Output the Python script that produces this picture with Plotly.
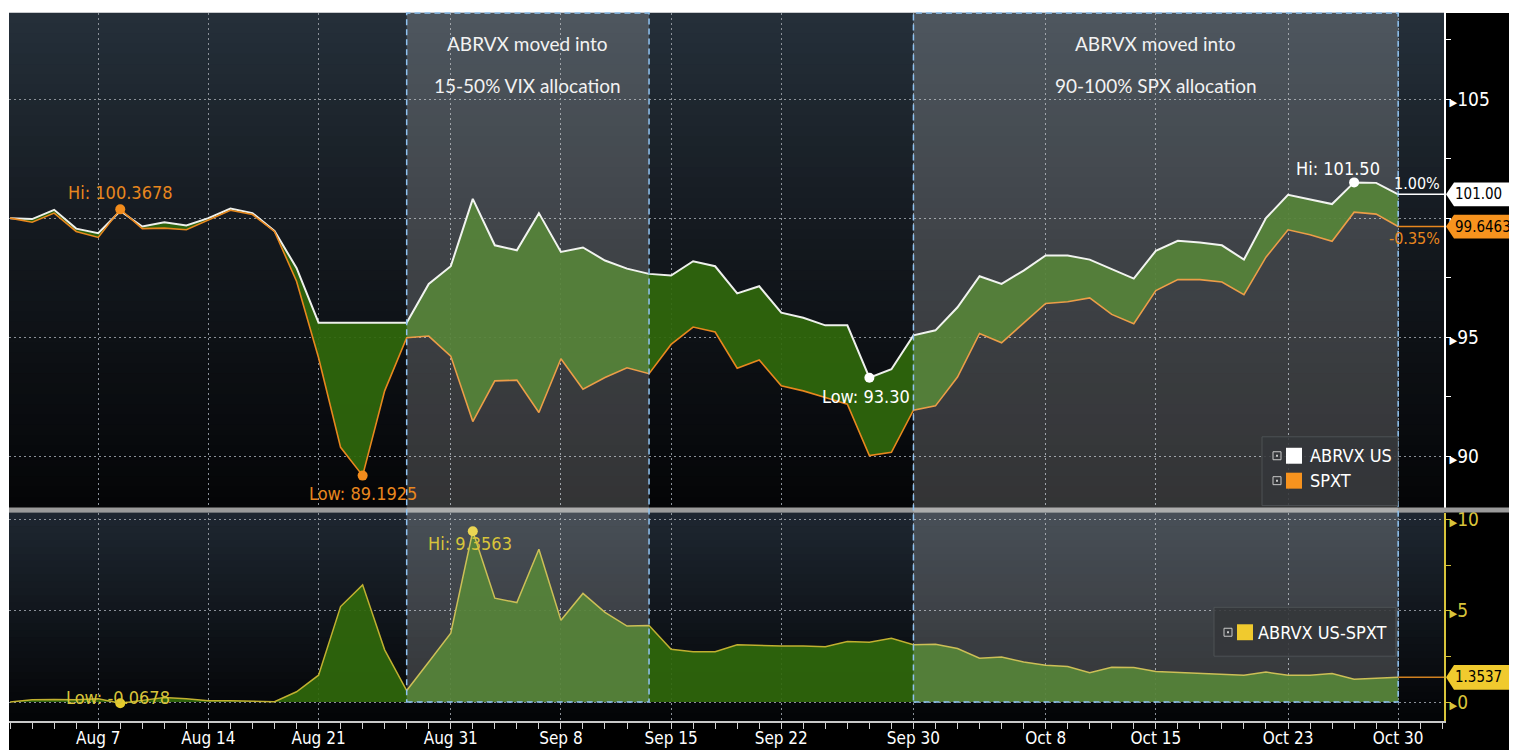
import plotly.graph_objects as go
import pandas as pd

# ---------------- data ----------------
DATES = [d.strftime("%Y-%m-%d") for d in pd.bdate_range("2015-08-03", "2015-10-30")
         if d.strftime("%Y-%m-%d") != "2015-09-07"]

ABRVX = [100.00, 99.96, 100.35, 99.56, 99.37, 100.30, 99.65, 99.83, 99.69, 100.00,
         100.40, 100.21, 99.46, 97.91, 95.61, 95.61, 95.61, 95.61, 95.61, 97.24,
         97.98, 100.81, 98.86, 98.65, 100.21, 98.58, 98.77, 98.22, 97.88, 97.66,
         97.59, 98.19, 97.98, 96.84, 97.14, 96.03, 95.82, 95.50, 95.50, 93.30,
         93.66, 95.08, 95.29, 96.26, 97.56, 97.24, 97.80, 98.43, 98.43, 98.26,
         97.87, 97.46, 98.63, 99.05, 98.98, 98.86, 98.26, 100.00, 100.98, 100.77,
         100.59, 101.50, 101.48, 101.00]

SPXT = [100.00, 99.83, 100.21, 99.44, 99.19, 100.3678, 99.56, 99.58, 99.51, 99.93,
        100.33, 100.15, 99.44, 97.35, 94.14, 90.38, 89.1925, 92.75, 94.98, 95.05,
        94.21, 91.46, 93.17, 93.20, 91.84, 94.10, 92.82, 93.31, 93.72, 93.47,
        94.70, 95.43, 95.22, 93.70, 94.05, 92.96, 92.75, 92.47, 92.19, 90.03,
        90.17, 91.94, 92.12, 93.33, 95.16, 94.77, 95.61, 96.42, 96.49, 96.65,
        95.96, 95.57, 96.96, 97.42, 97.42, 97.32, 96.79, 98.36, 99.51, 99.30,
        99.03, 100.25, 100.17, 99.6463]

SPREAD = [0.00, 0.13, 0.14, 0.12, 0.18, -0.0678, 0.09, 0.25, 0.18, 0.07,
          0.07, 0.06, 0.02, 0.56, 1.47, 5.23, 6.42, 2.86, 0.63, 2.19,
          3.77, 9.3563, 5.69, 5.45, 8.37, 4.48, 5.95, 4.91, 4.16, 4.19,
          2.89, 2.76, 2.76, 3.14, 3.09, 3.07, 3.07, 3.03, 3.31, 3.27,
          3.49, 3.14, 3.17, 2.93, 2.40, 2.47, 2.19, 2.01, 1.94, 1.61,
          1.91, 1.89, 1.67, 1.63, 1.56, 1.54, 1.47, 1.64, 1.47, 1.47,
          1.56, 1.25, 1.31, 1.3537]

TICK_DATES = ["2015-08-07", "2015-08-14", "2015-08-21", "2015-08-31", "2015-09-08",
              "2015-09-15", "2015-09-22", "2015-09-30", "2015-10-08", "2015-10-15",
              "2015-10-23", "2015-10-30"]
TICK_LABELS = ["Aug 7", "Aug 14", "Aug 21", "Aug 31", "Sep 8", "Sep 15", "Sep 22",
               "Sep 30", "Oct 8", "Oct 15", "Oct 23", "Oct 30"]

PERIODS = [("2015-08-27", "2015-09-14", "ABRVX moved into", "15-50% VIX allocation"),
           ("2015-09-30", "2015-10-30", "ABRVX moved into", "90-100% SPX allocation")]

TOP_TICKS = [90, 95, 100, 105]
BOT_TICKS = [0, 5, 10]

# ---------------- styling ----------------
NARROW = "'Liberation Sans Narrow', 'DejaVu Sans Condensed', 'Roboto Condensed', 'Arial Narrow', Roboto, sans-serif"
WHITE = "#eef0ec"
ORANGE = "#e8871e"
YELLOW = "#d8c43a"
GREEN = "rgba(48,104,12,0.92)"
GRID = "#8a9098"

W, H = 1517, 750
BODY = 8                                  # default page margin around the figure
PL, PR, PT, PB = 9, 1444, 11, 721         # plot area in page pixels
TOP_BOTTOM_PX, BOT_TOP_PX = 507, 512      # panel split (page pixels)


def px(x):
    return (x - PL) / (PR - PL)


def py(y):
    return (PB - y) / (PB - PT)


pos = {d: i for i, d in enumerate(DATES)}
xs = list(range(len(DATES)))

fig = go.Figure()

# top panel: fill between the two series
fig.add_trace(go.Scatter(x=xs, y=SPXT, mode="lines", line=dict(width=0, color=ORANGE),
                         showlegend=False, hoverinfo="skip", xaxis="x", yaxis="y"))
fig.add_trace(go.Scatter(x=xs, y=ABRVX, mode="lines", line=dict(width=2, color=WHITE),
                         fill="tonexty", fillcolor=GREEN, name="ABRVX US",
                         showlegend=False, xaxis="x", yaxis="y"))
fig.add_trace(go.Scatter(x=xs, y=SPXT, mode="lines", line=dict(width=1.6, color=ORANGE),
                         name="SPXT", showlegend=False, xaxis="x", yaxis="y"))

# bottom panel
fig.add_trace(go.Scatter(x=xs, y=SPREAD, mode="lines", line=dict(width=1.5, color="#c0b030"),
                         fill="tozeroy", fillcolor=GREEN, name="ABRVX US-SPXT",
                         showlegend=False, xaxis="x", yaxis="y2"))


def extreme(series, fn):
    v = fn(series)
    return series.index(v), v


hiS = extreme(SPXT, max)
loS = extreme(SPXT, min)
hiA = extreme(ABRVX, max)
loA = extreme(ABRVX, min)
hiD = extreme(SPREAD, max)
loD = extreme(SPREAD, min)

fig.add_trace(go.Scatter(x=[hiS[0], loS[0]], y=[hiS[1], loS[1]], mode="markers",
                         marker=dict(size=10, color="#f28c1c"), showlegend=False,
                         xaxis="x", yaxis="y"))
fig.add_trace(go.Scatter(x=[hiA[0], loA[0]], y=[hiA[1], loA[1]], mode="markers",
                         marker=dict(size=10, color="#ffffff"), showlegend=False,
                         xaxis="x", yaxis="y"))
fig.add_trace(go.Scatter(x=[hiD[0], loD[0]], y=[hiD[1], loD[1]], mode="markers",
                         marker=dict(size=10, color="#e6cc2c"), showlegend=False,
                         xaxis="x", yaxis="y2"))

shapes = []
annotations = []


def lerp(c1, c2, t):
    return tuple(int(round(a + (b - a) * t)) for a, b in zip(c1, c2))


def gradient(y_top, y_bot, stops, n=48):
    for k in range(n):
        t = (k + 0.5) / n
        for j in range(len(stops) - 1):
            if stops[j][0] <= t <= stops[j + 1][0]:
                f = (t - stops[j][0]) / (stops[j + 1][0] - stops[j][0])
                c = lerp(stops[j][1], stops[j + 1][1], f)
                break
        ya = y_top + (y_bot - y_top) * k / n
        yb = y_top + (y_bot - y_top) * (k + 1) / n
        shapes.append(dict(type="rect", xref="paper", yref="paper", x0=0, x1=1,
                           y0=py(yb) - 0.0005, y1=py(ya) + 0.0005, layer="below",
                           line=dict(width=0), fillcolor="rgb(%d,%d,%d)" % c))


gradient(PT, TOP_BOTTOM_PX, [(0, (37, 48, 58)), (0.45, (20, 25, 31)), (1, (4, 5, 7))])
gradient(BOT_TOP_PX, PB, [(0, (30, 39, 49)), (1, (3, 4, 6))], n=30)

# black regions outside the plot area (right axis strip and date strip)
shapes.append(dict(type="rect", xref="paper", yref="paper", x0=px(PR), x1=px(W + BODY + 5),
                   y0=py(H + BODY + 5), y1=py(PT), fillcolor="#000000", line=dict(width=0),
                   layer="below"))
shapes.append(dict(type="rect", xref="paper", yref="paper", x0=px(PL), x1=px(PR),
                   y0=py(H + BODY + 5), y1=py(PB), fillcolor="#000000", line=dict(width=0),
                   layer="below"))

# panel separator
shapes.append(dict(type="rect", xref="paper", yref="paper", x0=px(PL), x1=px(W + BODY),
                   y0=py(BOT_TOP_PX), y1=py(TOP_BOTTOM_PX), fillcolor="#9a9a9a",
                   line=dict(width=0), layer="above"))

# highlighted periods
for start, end, l1, l2 in PERIODS:
    x0, x1 = pos[start], pos[end]
    shapes.append(dict(type="rect", xref="x", yref="paper", x0=x0, x1=x1,
                       y0=py(702), y1=1, fillcolor="rgba(255,255,255,0.19)",
                       line=dict(color="#8fc3f2", width=1.5, dash="6px,4px"), layer="above"))
    xc = (x0 + x1) / 2
    for txt, ypix in ((l1, 42), (l2, 84)):
        annotations.append(dict(x=xc, y=py(ypix), xref="x", yref="paper", text=txt,
                                showarrow=False, xanchor="center", yanchor="middle",
                                font=dict(family="Lato, 'Open Sans', sans-serif", size=19,
                                          color="#f2f2f2")))

# last value lines, tags and % changes
last = len(DATES) - 1
XEND = 65.08
shapes.append(dict(type="line", xref="x", yref="y", x0=last, x1=XEND, y0=ABRVX[-1], y1=ABRVX[-1],
                   line=dict(color="#ffffff", width=1.5), layer="above"))
shapes.append(dict(type="line", xref="x", yref="y", x0=last, x1=XEND, y0=SPXT[-1], y1=SPXT[-1],
                   line=dict(color=ORANGE, width=1.5), layer="above"))
shapes.append(dict(type="line", xref="x", yref="y2", x0=last, x1=XEND, y0=SPREAD[-1], y1=SPREAD[-1],
                   line=dict(color="#d08020", width=1.5), layer="above"))

pctA = (ABRVX[-1] / ABRVX[0] - 1) * 100
pctS = (SPXT[-1] / SPXT[0] - 1) * 100
annotations.append(dict(x=px(1442), y=ABRVX[-1], xref="paper", yref="y", text="%.2f%%" % pctA,
                        showarrow=False, xanchor="right", yanchor="middle", yshift=11,
                        font=dict(family=NARROW, size=16, color="#ffffff")))
annotations.append(dict(x=px(1442), y=SPXT[-1], xref="paper", yref="y", text="%.2f%%" % pctS,
                        showarrow=False, xanchor="right", yanchor="middle", yshift=-12,
                        font=dict(family=NARROW, size=16, color=ORANGE)))

tags = [(ABRVX[-1], "y", 0.5, "#ffffff", "%.2f" % ABRVX[-1]),
        (SPXT[-1], "y", 0.5, "#f7931e", "%.4f" % SPXT[-1]),
        (SPREAD[-1], "y2", 0.68, "#f0ca2e", "%.4f" % SPREAD[-1])]
for v, yref, h, col, txt in tags:
    path = "M %f,%f L %f,%f L %f,%f L %f,%f L %f,%f Z" % (
        px(1446), v, px(1454), v + h, px(1530), v + h, px(1530), v - h, px(1454), v - h)
    shapes.append(dict(type="path", xref="paper", yref=yref, path=path, fillcolor=col,
                       line=dict(width=0), layer="above"))
    annotations.append(dict(x=px(1453), y=v, xref="paper", yref=yref, text=txt, showarrow=False,
                            xanchor="left", yanchor="middle",
                            font=dict(family=NARROW, size=15, color="#000000")))


def hl(label, pt, yref, color, fmt, xshift, yshift):
    annotations.append(dict(x=pt[0], y=pt[1], xref="x", yref=yref,
                            text=label + ": " + (fmt % pt[1]), showarrow=False,
                            xanchor="center", yanchor="middle", xshift=xshift, yshift=yshift,
                            font=dict(family=NARROW, size=18, color=color)))


hl("Hi", hiS, "y", ORANGE, "%.4f", 0, 17)
hl("Low", loS, "y", ORANGE, "%.4f", 0, -18)
hl("Hi", hiA, "y", "#ffffff", "%.2f", -16, 14)
hl("Low", loA, "y", "#ffffff", "%.2f", -3, -19)
hl("Hi", hiD, "y2", YELLOW, "%.4f", -3, -12)
hl("Low", loD, "y2", YELLOW, "%.4f", -2, 6)


def legend_box(x0, x1, y0, y1):
    shapes.append(dict(type="rect", xref="paper", yref="paper", x0=px(x0), x1=px(x1),
                       y0=py(y1), y1=py(y0), fillcolor="rgba(52,55,58,0.88)",
                       line=dict(color="rgba(80,84,88,0.9)", width=1), layer="above"))


def legend_item(xicon, ycen, color, label, xtext):
    shapes.append(dict(type="rect", xref="paper", yref="paper", x0=px(xicon - 4), x1=px(xicon + 4),
                       y0=py(ycen + 4), y1=py(ycen - 4), fillcolor="rgba(0,0,0,0)",
                       line=dict(color="#c8c8c8", width=1), layer="above"))
    shapes.append(dict(type="rect", xref="paper", yref="paper", x0=px(xicon - 1), x1=px(xicon + 1),
                       y0=py(ycen + 1), y1=py(ycen - 1), fillcolor="#c8c8c8",
                       line=dict(width=0), layer="above"))
    shapes.append(dict(type="rect", xref="paper", yref="paper", x0=px(xicon + 9), x1=px(xicon + 25),
                       y0=py(ycen + 8), y1=py(ycen - 8), fillcolor=color,
                       line=dict(width=0), layer="above"))
    annotations.append(dict(x=px(xtext), y=py(ycen), xref="paper", yref="paper", text=label,
                            showarrow=False, xanchor="left", yanchor="middle",
                            font=dict(family=NARROW, size=18, color="#ffffff")))


legend_box(1262, 1398, 436, 505)
legend_item(1277, 455, "#ffffff", "ABRVX US", 1308)
legend_item(1277, 480, "#f7931e", "SPXT", 1308)
legend_box(1214, 1396, 607, 656)
legend_item(1228, 632, "#f0ca2e", "ABRVX US-SPXT", 1256)

ARW = '<span style="font-size:11px">▶</span>'

fig.update_layout(
    width=W, height=H,
    margin=dict(l=PL - BODY, r=W + BODY - PR, t=PT - BODY, b=H + BODY - PB, pad=0),
    paper_bgcolor="#ffffff",
    plot_bgcolor="#101418",
    showlegend=False,
    hovermode=False,
    font=dict(family=NARROW, color="#ffffff", size=16),
    shapes=shapes,
    annotations=annotations,
    xaxis=dict(
        domain=[0, 1], anchor="y2", range=[-0.05, XEND],
        tickmode="array", tickvals=[pos[d] for d in TICK_DATES], ticktext=TICK_LABELS,
        ticks="outside", ticklen=6, tickcolor="#d0d0d0", tickwidth=1,
        ticklabelstandoff=-5,
        tickfont=dict(family=NARROW, size=17, color="#ffffff"),
        showline=True, linecolor="#c8c8c8", linewidth=2,
        showgrid=True, gridcolor=GRID, gridwidth=1, griddash="2px,3px",
        zeroline=False,
        minor=dict(dtick=1, tick0=0, ticks="outside", ticklen=6, tickcolor="#d0d0d0",
                   showgrid=False),
    ),
    yaxis=dict(
        domain=[py(TOP_BOTTOM_PX), 1], anchor="x", side="right",
        range=[87.85, 108.61],
        tickmode="array", tickvals=TOP_TICKS,
        ticktext=[ARW + (str(v) if v != 100 else "") for v in TOP_TICKS],
        ticks="", tickfont=dict(family=NARROW, size=19, color="#ffffff"),
        showline=True, linecolor="#ffffff", linewidth=1.5,
        showgrid=True, gridcolor=GRID, gridwidth=1, griddash="2px,3px",
        zeroline=False,
        minor=dict(dtick=2.5, tick0=0, ticks="outside", ticklen=5, tickcolor="#ffffff",
                   showgrid=False),
    ),
    yaxis2=dict(
        domain=[0, py(BOT_TOP_PX)], anchor="x", side="right",
        range=[-1.04, 10.38],
        tickmode="array", tickvals=BOT_TICKS,
        ticktext=[ARW + str(v) for v in BOT_TICKS],
        ticks="", tickfont=dict(family=NARROW, size=19, color=YELLOW),
        showline=True, linecolor=YELLOW, linewidth=1.5,
        showgrid=True, gridcolor=GRID, gridwidth=1, griddash="2px,3px",
        zeroline=False,
        minor=dict(dtick=2.5, tick0=0, ticks="outside", ticklen=5, tickcolor=YELLOW,
                   showgrid=False),
    ),
)

fig.write_html("out.html")
